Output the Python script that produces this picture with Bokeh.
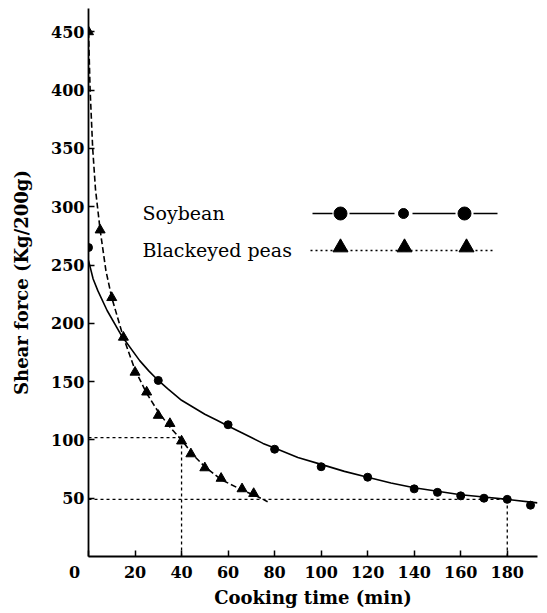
from bokeh.plotting import figure
from bokeh.models import FixedTicker, Label
from bokeh.embed import file_html
from bokeh.resources import INLINE

# ---- data ----
soy_time = [0, 30, 60, 80, 100, 120, 140, 150, 160, 170, 180, 190]
soy_force = [265, 151, 113, 92, 77, 68, 58, 55, 52, 50, 49, 44]
soy_curve_time = [0, 2, 4, 8, 14, 22, 26, 30, 34, 40, 45, 50, 55, 60, 65, 70, 75, 80, 90,
                  100, 110, 120, 130, 140, 150, 160, 170, 180, 193]
soy_curve_force = [254, 238, 228, 211, 190, 168, 159, 151, 144, 134, 128, 122, 117, 112, 107,
                   102, 97, 93, 85, 79, 73, 68, 63, 59, 56, 53, 51, 49, 46]

pea_time = [0, 5, 10, 15, 20, 25, 30, 35, 40, 44, 50, 57, 66, 71]
pea_force = [450, 280, 222, 188, 158, 141, 121, 114, 99, 88, 76, 67, 58, 54]
pea_curve_time = [0, 0.7, 1.8, 3, 5, 7.5, 10, 15, 20, 25, 30, 35, 40, 45, 50, 57, 66, 72, 77]
pea_curve_force = [450, 400, 350, 315, 280, 245, 222, 188, 160, 140, 124, 111, 100, 87, 77, 66, 57, 52, 47]

ref_time = [40, 180]
ref_force = [102, 49]

x_ticks = [0, 20, 40, 60, 80, 100, 120, 140, 160, 180]
y_ticks = [50, 100, 150, 200, 250, 300, 350, 400, 450]
x_title = "Cooking time (min)"
y_title = "Shear force (Kg/200g)"
legend_names = ["Soybean", "Blackeyed peas"]

X_MAX, Y_MAX = 193, 470
FL, FR, FT, FB = 88, 537, 8, 556  # frame edges in pixels


def dx(px):
    return (px - FL) * X_MAX / (FR - FL)


def dy(py):
    return (FB - py) * Y_MAX / (FB - FT)


p = figure(width=547, height=613, x_range=(0, X_MAX), y_range=(0, Y_MAX),
           output_backend="svg", toolbar_location=None,
           min_border_left=FL, min_border_right=547 - FR,
           min_border_top=FT, min_border_bottom=613 - FB)
p.outline_line_color = None
p.xgrid.visible = False
p.ygrid.visible = False
p.background_fill_color = "white"
p.border_fill_color = "white"

serif = "DejaVu Serif"
for ax in (p.xaxis[0], p.yaxis[0]):
    ax.axis_line_color = "black"
    ax.axis_line_width = 1.8
    ax.major_tick_in = 6
    ax.major_tick_out = 0
    ax.minor_tick_in = 0
    ax.minor_tick_out = 0
    ax.major_tick_line_width = 1.5
    ax.major_label_text_font = serif
    ax.major_label_text_font_style = "bold"
    ax.major_label_text_font_size = "16px"
    ax.major_label_text_color = "black"
    ax.axis_label_text_font = serif
    ax.axis_label_text_font_style = "bold"
    ax.axis_label_text_font_size = "18px"
    ax.axis_label_text_color = "black"
p.xaxis.ticker = FixedTicker(ticks=x_ticks)
p.yaxis.ticker = FixedTicker(ticks=y_ticks)
# the origin "0" sits left of the corner, as in the original
p.xaxis.major_label_overrides = {0: "0" + "\u00a0" * 5}
p.xaxis.major_label_standoff = 6
p.yaxis.major_label_standoff = 4
p.xaxis.axis_label = x_title
p.yaxis.axis_label = y_title
p.xaxis.axis_label_standoff = 2
p.yaxis.axis_label_standoff = 16

# reference (read-off) lines
for t, f in zip(ref_time, ref_force):
    p.line([0, t], [f, f], line_color="black", line_width=1.3, line_dash="3 3")
    p.line([t, t], [0, f], line_color="black", line_width=1.3, line_dash="3 3")

# curves
p.line(soy_curve_time, soy_curve_force, line_color="black", line_width=1.6)
p.line(pea_curve_time, pea_curve_force, line_color="black", line_width=1.6, line_dash="6 3")

# points
p.scatter(soy_time, soy_force, marker="circle", size=8, color="black")
p.scatter(pea_time, pea_force, marker="triangle", size=10, color="black")

# legend (hand drawn, like the original)
leg_soy_y = dy(213)
leg_pea_y = dy(250)
p.multi_line([[dx(312), dx(332)], [dx(349), dx(394)], [dx(412), dx(455)], [dx(473), dx(497)]],
             [[leg_soy_y] * 2] * 4, line_color="black", line_width=1.5)
p.scatter([dx(340), dx(403), dx(464)], [leg_soy_y] * 3, marker="circle",
          size=[13, 10, 13], color="black")
p.line([dx(310), dx(495)], [leg_pea_y, leg_pea_y], line_color="black",
       line_width=1.3, line_dash="2 3")
p.scatter([dx(340), dx(404), dx(466)], [dy(247)] * 3, marker="triangle",
          size=15, color="black")

for txt, py in zip(legend_names, (212, 249)):
    p.add_layout(Label(x=dx(142), y=dy(py), text=txt, text_font=serif,
                       text_font_size="19px", text_align="left",
                       text_baseline="middle", text_color="black"))

open("out.html", "w").write(file_html(p, INLINE))
